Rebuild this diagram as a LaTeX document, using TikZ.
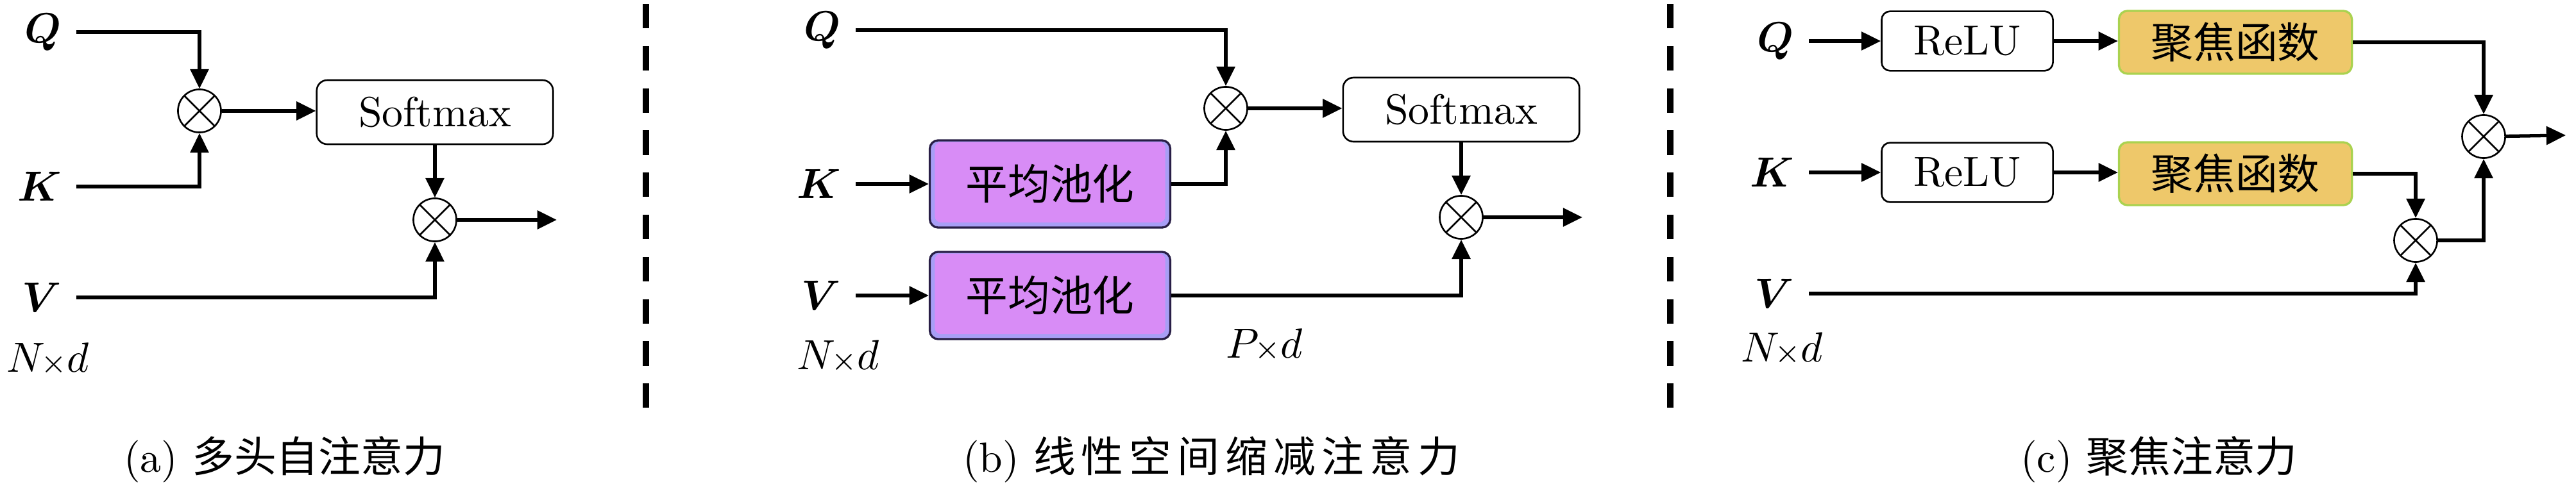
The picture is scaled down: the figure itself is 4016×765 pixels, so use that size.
\documentclass[tikz,border=0pt]{standalone}
\usepackage{fontspec}
\usepackage{bm}
\usetikzlibrary{arrows.meta}
\newfontfamily\cjk{Noto Sans CJK SC}
\definecolor{poolfill}{RGB}{216,140,246}
\definecolor{poolrim}{RGB}{168,158,246}
\definecolor{pooldraw}{RGB}{40,30,70}
\definecolor{focfill}{RGB}{238,200,106}
\definecolor{focdraw}{RGB}{170,210,80}
\begin{document}
\begin{tikzpicture}[x=0.152pt,y=-0.152pt,
  arr/.style={line width=0.8pt,-{Triangle[length=4.6pt,width=4.3pt]}},
  mult/.style={circle,draw,line width=0.4pt,minimum size=10.2pt,inner sep=0pt,
    path picture={\draw[line width=0.4pt]
      (path picture bounding box.north west) -- (path picture bounding box.south east)
      (path picture bounding box.north east) -- (path picture bounding box.south west);}},
  softbox/.style={draw,rounded corners=2.5pt,line width=0.4pt,minimum width=56pt,minimum height=15.2pt,inner sep=0pt},
  relubox/.style={draw,rounded corners=2pt,line width=0.4pt,minimum width=40.6pt,minimum height=14.1pt,inner sep=0pt},
  poolbox/.style={draw=pooldraw,fill=poolrim,rounded corners=2pt,line width=0.5pt,minimum width=57pt,minimum height=20.7pt,inner sep=0pt,font=\cjk,
    path picture={\fill[poolfill,rounded corners=1.5pt]
      ([xshift=1.2pt,yshift=-0.4pt]path picture bounding box.north west) rectangle
      ([xshift=-1.2pt,yshift=1.2pt]path picture bounding box.south east);}},
  focbox/.style={draw=focdraw,fill=focfill,rounded corners=2pt,line width=0.5pt,minimum width=55.2pt,minimum height=14.9pt,inner sep=0pt,font=\cjk},
  sepline/.style={line width=1.5pt,dash pattern=on 5.8pt off 4.2pt},
  captext/.style={anchor=base west,inner sep=0pt}]
\useasboundingbox (0,0) rectangle (4016,765);

% separators
\draw[sepline] (1007,6) -- (1007,637);
\draw[sepline] (2604,6) -- (2604,637);

% ---------- panel (a)
\node[anchor=east] (Qa) at (119,50) {$\bm{Q}$};
\node[anchor=east] (Ka) at (119,291) {$\bm{K}$};
\node[anchor=east] (Va) at (119,464) {$\bm{V}$};
\node (NDa) at (75,560) {$N\mkern-2mu{\scriptstyle\times}d$};
\node[mult] (ma1) at (311,173) {};
\node[softbox] (sma) at (678,175) {Softmax};
\node[mult] (ma2) at (678,343) {};
\coordinate (oa) at (868,343);
\draw[arr] (Qa.east) -| (ma1);
\draw[arr] (Ka.east) -| (ma1);
\draw[arr] (ma1.east) -- (ma1.east -| sma.west);
\draw[arr] (sma) -- (ma2);
\draw[arr] (Va.east) -| (ma2);
\draw[arr] (ma2) -- (oa);

% ---------- panel (b)
\node[anchor=east] (Qb) at (1334,47) {$\bm{Q}$};
\node[anchor=east] (Kb) at (1334,287) {$\bm{K}$};
\node[anchor=east] (Vb) at (1334,461) {$\bm{V}$};
\node (NDb) at (1307,556) {$N\mkern-2mu{\scriptstyle\times}d$};
\node (PDb) at (1971,538) {$P\mkern-2mu{\scriptstyle\times}d$};
\node[poolbox] (pk) at (1637,287) {平均池化};
\node[poolbox] (pv) at (1637,461) {平均池化};
\node[mult] (mb1) at (1911,169) {};
\node[softbox] (smb) at (2278,171) {Softmax};
\node[mult] (mb2) at (2278,339) {};
\coordinate (ob) at (2467,339);
\draw[arr] (Qb.east) -| (mb1);
\draw[arr] (Kb.east) -- (pk.west);
\draw[arr] (Vb.east) -- (pv.west);
\draw[arr] (pk.east) -| (mb1);
\draw[arr] (mb1.east) -- (mb1.east -| smb.west);
\draw[arr] (smb) -- (mb2);
\draw[arr] (pv.east) -| (mb2);
\draw[arr] (mb2) -- (ob);

% ---------- panel (c)
\node[anchor=east] (Qc) at (2820,64) {$\bm{Q}$};
\node[anchor=east] (Kc) at (2820,269) {$\bm{K}$};
\node[anchor=east] (Vc) at (2820,458) {$\bm{V}$};
\node (NDc) at (2778,544) {$N\mkern-2mu{\scriptstyle\times}d$};
\node[relubox] (r1) at (3067,64) {ReLU};
\node[relubox] (r2) at (3067,269) {ReLU};
\node[focbox] (f1) at (3485,66) {聚焦函数};
\node[focbox] (f2) at (3485,271) {聚焦函数};
\node[mult] (mc1) at (3872,213) {};
\node[mult] (mc2) at (3766,375) {};
\coordinate (oc) at (4000,211);
\draw[arr] (Qc.east) -- (r1.west);
\draw[arr] (r1.east) -- (r1.east -| f1.west);
\draw[arr] (f1.east) -| (mc1);
\draw[arr] (Kc.east) -- (r2.west);
\draw[arr] (r2.east) -- (r2.east -| f2.west);
\draw[arr] (f2.east) -| (mc2);
\draw[arr] (Vc.east) -| (mc2);
\draw[arr] (mc2.east) -| (mc1);
\draw[arr] (mc1) -- (oc);

% captions
\node[captext] (capa) at (192,736) {(a) {\cjk 多头自注意力}};
\node[captext] (capb) at (1500,736) {(b) {\cjk 线\kern1.4pt 性\kern1.4pt 空\kern1.4pt 间\kern1.4pt 缩\kern1.4pt 减\kern1.4pt 注\kern1.4pt 意\kern1.4pt 力}};
\node[captext] (capc) at (3149,736) {(c) {\cjk 聚焦注意力}};
\end{tikzpicture}
\end{document}
